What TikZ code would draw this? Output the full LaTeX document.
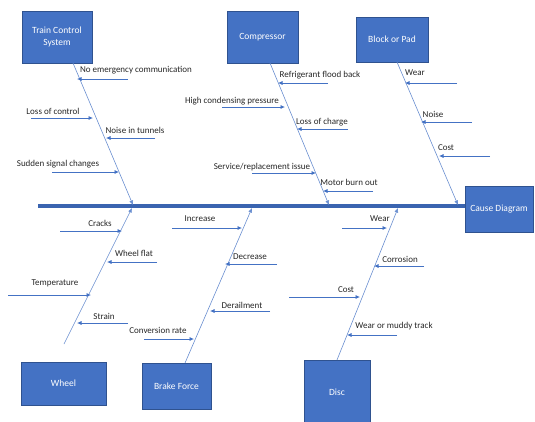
\documentclass[tikz,border=0pt]{standalone}
\usepackage{fontspec}
\setmainfont{Carlito}
\usetikzlibrary{arrows.meta}
\definecolor{boxblue}{HTML}{4472C4}
\definecolor{spineblue}{HTML}{3A64B0}
\definecolor{boxedge}{HTML}{2F528F}
\begin{document}
\begin{tikzpicture}[x=1pt,y=-1pt,
  catbox/.style={fill=boxblue,draw=boxedge,line width=0.6pt,text=white,font=\fontsize{9.5}{12}\selectfont,align=center,inner sep=0pt},
  lbl/.style={font=\fontsize{9}{10}\selectfont,inner sep=0pt,text=black!85},
  sub/.style={draw=boxblue,line width=0.7pt,-{Latex[length=4.5pt,width=4pt]}},
  bone/.style={draw=boxblue!80,line width=0.6pt,-{Latex[length=4.5pt,width=4pt]}},
  spine/.style={draw=spineblue,line width=3.5pt}]
\useasboundingbox (0,0) rectangle (535,421);
% category boxes
\node[catbox,minimum width=70pt,minimum height=52pt] (tcs) at (57,37) {Train Control\\System};
\node[catbox,minimum width=71pt,minimum height=52pt] (comp) at (262.5,37) {Compressor};
\node[catbox,minimum width=72pt,minimum height=45pt] (bp) at (392,39.5) {Block or Pad};
\node[catbox,minimum width=68pt,minimum height=46pt] (cause) at (499,209) {Cause Diagram};
\node[catbox,minimum width=85pt,minimum height=43pt] (wheel) at (63.5,383.5) {Wheel};
\node[catbox,minimum width=69pt,minimum height=46pt] (brake) at (176.5,386) {Brake Force};
\node[catbox,minimum width=66pt,minimum height=64pt] (disc) at (337,392) {Disc};
% spine
\coordinate (sp0) at (38,206);
\draw[spine] (sp0) -- (cause.west |- sp0);
% bone coordinates
\coordinate (tcA) at (73,63);   \coordinate (tcB) at (133,205);
\coordinate (coA) at (270,63);  \coordinate (coB) at (329,205);
\coordinate (bpA) at (397,62);  \coordinate (bpB) at (458,205);
\coordinate (whA) at (64,344);  \coordinate (whB) at (132,208);
\coordinate (brA) at (185,363); \coordinate (brB) at (252,208);
\coordinate (diA) at (337,360); \coordinate (diB) at (398,208);
\draw[bone] (tcA) -- (tcB);
\draw[bone] (coA) -- (coB);
\draw[bone] (bpA) -- (bpB);
\draw[bone] (whA) -- (whB);
\draw[bone] (brA) -- (brB);
\draw[bone] (diA) -- (diB);
% labels
\node[lbl] (t1) at (136,70) {No emergency communication};
\node[lbl] (t2) at (53,111) {Loss of control};
\node[lbl] (t3) at (135,130) {Noise in tunnels};
\node[lbl] (t4) at (58,164) {Sudden signal changes};
\node[lbl] (c1) at (320,75) {Refrigerant flood back};
\node[lbl] (c2) at (232,101) {High condensing pressure};
\node[lbl] (c3) at (322,122) {Loss of charge};
\node[lbl] (c4) at (262,167) {Service/replacement issue};
\node[lbl] (c5) at (349,182) {Motor burn out};
\node[lbl] (b1) at (415,73) {Wear};
\node[lbl] (b2) at (433,114) {Noise};
\node[lbl] (b3) at (446,148) {Cost};
\node[lbl] (w1) at (100,223) {Cracks};
\node[lbl] (w2) at (134,253) {Wheel flat};
\node[lbl] (w3) at (55,283) {Temperature};
\node[lbl] (w4) at (104,316) {Strain};
\node[lbl] (f1) at (200,219) {Increase};
\node[lbl] (f2) at (250,257) {Decrease};
\node[lbl] (f3) at (242,305) {Derailment};
\node[lbl] (f4) at (158,330) {Conversion rate};
\node[lbl] (d1) at (380,219) {Wear};
\node[lbl] (d2) at (400,259) {Corrosion};
\node[lbl] (d3) at (346,290) {Cost};
\node[lbl] (d4) at (394,326) {Wear or muddy track};
% sub-cause arrows
\foreach \n/\sx/\sy/\ex in {
  t1/128/79/77, t2/31/118/93, t3/155/138/106, t4/52/172/119,
  c1/328/83/278, c2/222/107/285, c3/348/129/297, c4/252/173/316, c5/373/191/323,
  b1/457/83/405, b2/472/122/421, b3/490/156/439,
  w1/60/231/122, w2/157/262/107, w3/8/295/91, w4/128/323/77,
  f1/172/228/242, f2/277/264/225, f3/270/311/210, f4/144/339/194,
  d1/342/228/387, d2/424/266/374, d3/289/297/360, d4/397/335/347}{
  \coordinate (\n s) at (\sx,\sy);
  \coordinate (\n e) at (\ex,\sy);
  \draw[sub] (\n s) -- (\n e);
}
\end{tikzpicture}
\end{document}
